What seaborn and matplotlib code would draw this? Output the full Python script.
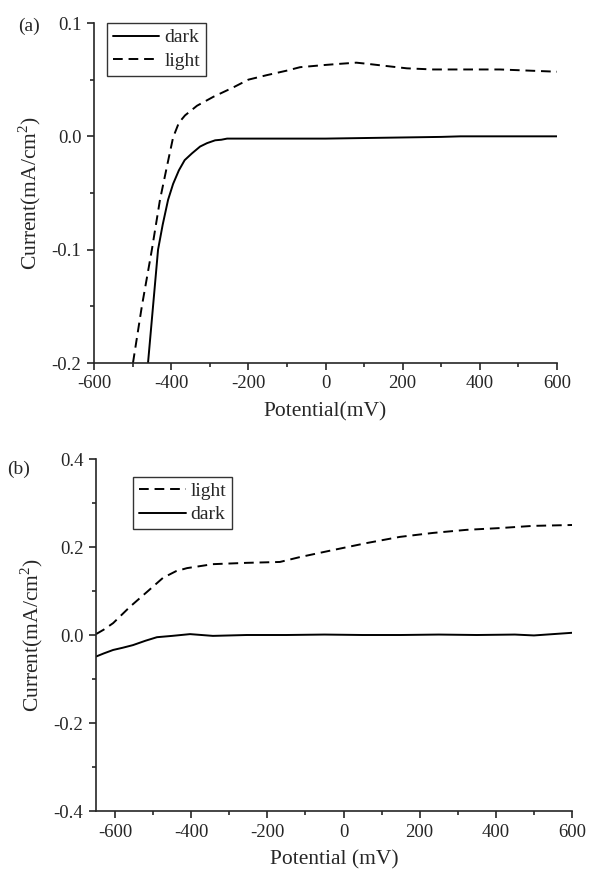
import numpy as np
import pandas as pd
import matplotlib
matplotlib.use("Agg")
import matplotlib.pyplot as plt
from matplotlib.ticker import MultipleLocator, FormatStrFormatter
import seaborn as sns

# (a) dark / light curves
a_dark_x = [-460, -447, -434, -422, -408, -395, -380, -365, -346, -325, -307, -286,
            -270, -255, -200, -100, 0, 100, 200, 300, 350, 400, 500, 600]
a_dark_y = [-0.2, -0.15, -0.1, -0.078, -0.056, -0.042, -0.03, -0.021, -0.015, -0.009,
            -0.006, -0.0035, -0.003, -0.002, -0.002, -0.002, -0.002, -0.0015, -0.001,
            -0.0005, 0.0, 0.0, 0.0, 0.0]
a_light_x = [-499, -476, -450, -429, -410, -395, -380, -364, -333, -290, -240, -200,
             -152, -100, -66, 0, 38, 80, 108, 159, 211, 279, 350, 452, 600]
a_light_y = [-0.2, -0.15, -0.1, -0.056, -0.025, -0.001, 0.012, 0.0185, 0.027, 0.035,
             0.043, 0.05, 0.054, 0.058, 0.061, 0.063, 0.064, 0.065, 0.064, 0.062, 0.060,
             0.059, 0.059, 0.059, 0.057]

# (b) light / dark curves
b_light_x = [-650, -630, -605, -561, -516, -474, -440, -411, -343, -254, -167, -115,
             -28, 61, 148, 235, 323, 410, 497, 600]
b_light_y = [0.002, 0.012, 0.027, 0.064, 0.098, 0.13, 0.145, 0.152, 0.161, 0.164, 0.166,
             0.177, 0.193, 0.209, 0.223, 0.232, 0.239, 0.243, 0.248, 0.25]
b_dark_x = [-650, -630, -605, -580, -553, -520, -490, -450, -403, -343, -254, -150,
            -50, 50, 150, 250, 350, 450, 500, 550, 600]
b_dark_y = [-0.049, -0.042, -0.034, -0.029, -0.023, -0.013, -0.005, -0.002, 0.002,
            -0.002, 0.0, 0.0, 0.001, 0.0, 0.0, 0.001, 0.0, 0.001, -0.001, 0.002, 0.005]

sns.set_style("ticks")
plt.rcParams['font.family'] = ['Liberation Serif', 'DejaVu Serif']
plt.rcParams['mathtext.fontset'] = 'custom'
plt.rcParams['mathtext.rm'] = 'Liberation Serif'
plt.rcParams['axes.unicode_minus'] = False

fig = plt.figure(figsize=(5.89, 8.72), dpi=100)
ax1 = fig.add_axes([94 / 589, 1 - 363 / 872, (557 - 94) / 589, (363 - 23) / 872])
ax2 = fig.add_axes([96 / 589, 1 - 811 / 872, (572 - 96) / 589, (811 - 459) / 872])

def make_df(x, y, label):
    return pd.DataFrame({"x": x, "y": y, "s": label})

# panel (a)
dfa = pd.concat([make_df(a_dark_x, a_dark_y, "dark"), make_df(a_light_x, a_light_y, "light")])
sns.lineplot(data=dfa, x="x", y="y", style="s", style_order=["dark", "light"],
             dashes={"dark": "", "light": (5, 3)}, color="black", linewidth=1.4,
             sort=False, ax=ax1)
ax1.set_xlim(-600, 600)
ax1.set_ylim(-0.2, 0.1)
ax1.xaxis.set_major_locator(MultipleLocator(200))
ax1.xaxis.set_minor_locator(MultipleLocator(100))
ax1.yaxis.set_major_locator(MultipleLocator(0.1))
ax1.yaxis.set_minor_locator(MultipleLocator(0.05))
ax1.set_xlabel("Potential(mV)", fontsize=15.5, labelpad=7)
ax1.set_ylabel("Current(mA/cm$^2$)", fontsize=15.5, labelpad=6)
fig.text(18 / 589, 1 - 31 / 872, "(a)", fontsize=14)

# panel (b)
dfb = pd.concat([make_df(b_light_x, b_light_y, "light"), make_df(b_dark_x, b_dark_y, "dark")])
sns.lineplot(data=dfb, x="x", y="y", style="s", style_order=["light", "dark"],
             dashes={"dark": "", "light": (5, 3)}, color="black", linewidth=1.4,
             sort=False, ax=ax2)
ax2.set_xlim(-650, 600)
ax2.set_ylim(-0.4, 0.4)
ax2.xaxis.set_major_locator(MultipleLocator(200))
ax2.xaxis.set_minor_locator(MultipleLocator(100))
ax2.yaxis.set_major_locator(MultipleLocator(0.2))
ax2.yaxis.set_minor_locator(MultipleLocator(0.1))
ax2.set_xlabel("Potential (mV)", fontsize=15.5, labelpad=7)
ax2.set_ylabel("Current(mA/cm$^2$)", fontsize=15.5, labelpad=6)
fig.text(7 / 589, 1 - 474 / 872, "(b)", fontsize=14)

for ax in (ax1, ax2):
    sns.despine(ax=ax)
    for sp in ax.spines.values():
        sp.set_linewidth(1.2)
    ax.tick_params(which="major", direction="out", length=5, width=1.2, labelsize=13.5, pad=4)
    ax.tick_params(which="minor", direction="out", length=3, width=1.2)
    ax.yaxis.set_major_formatter(FormatStrFormatter("%.1f"))

leg1 = ax1.legend(loc="upper left", bbox_to_anchor=(0.028, 1.0), frameon=True,
                  fancybox=False, edgecolor="black", fontsize=14, handlelength=2.4,
                  handletextpad=0.25, borderpad=0.3, labelspacing=0.3, borderaxespad=0.0)
leg1.get_frame().set_linewidth(1.0)
leg2 = ax2.legend(loc="upper left", bbox_to_anchor=(0.078, 0.95), frameon=True,
                  fancybox=False, edgecolor="black", fontsize=14, handlelength=2.4,
                  handletextpad=0.25, borderpad=0.3, labelspacing=0.3, borderaxespad=0.0)
leg2.get_frame().set_linewidth(1.0)

fig.savefig("out.png", dpi=100)
